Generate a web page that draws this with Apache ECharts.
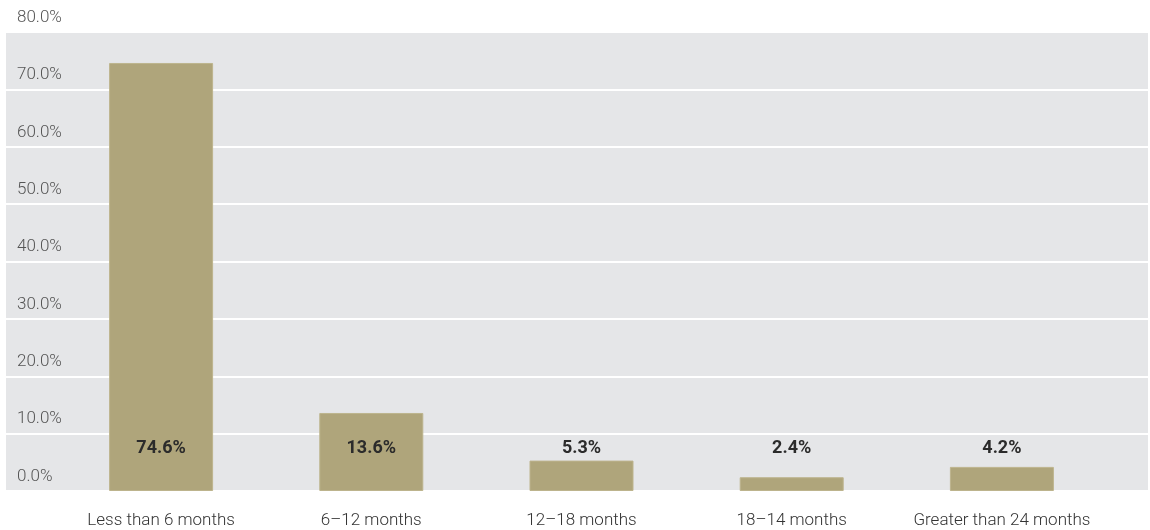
<!DOCTYPE html>
<html>
<head>
<meta charset="utf-8">
<script src="https://cdn.jsdelivr.net/npm/echarts@6/dist/echarts.min.js"></script>
<style>
	html,body{margin:0;padding:0;background:#fff;}
	#chart{width:1150px;height:530px;}
</style>
</head>
<body>
<div id="chart"></div>
<script>
// data
var categories = ['Less than 6 months', '6–12 months', '12–18 months', '18–14 months', 'Greater than 24 months'];
var shares = [74.6, 13.6, 5.3, 2.4, 4.2];
var yTicks = {min: 0, max: 80, interval: 10};

// height (in %) where the value labels sit, same for every bar
var labelLevel = 5.8;

var myChart = echarts.init(document.getElementById('chart'));
var option = {
	animation: false,
	textStyle: {fontFamily: 'Roboto'},
	grid: [
		{left: 6, right: 2, top: 32, bottom: 39, show: true, backgroundColor: '#e5e6e8', borderWidth: 0},
		{left: 56, right: 43, top: 32, bottom: 39}
	],
	xAxis: [
		{gridIndex: 0, type: 'value', show: false},
		{
			gridIndex: 1,
			type: 'category',
			data: categories,
			axisLine: {show: false},
			axisTick: {show: false},
			axisLabel: {
				interval: 0,
				margin: 21,
				color: '#333',
				fontSize: 17,
				fontWeight: 300
			}
		}
	],
	yAxis: [
		{
			gridIndex: 0,
			type: 'value',
			min: yTicks.min,
			max: yTicks.max,
			interval: yTicks.interval,
			axisLine: {show: false},
			axisTick: {show: false},
			splitLine: {lineStyle: {color: '#fff', width: 2}},
			axisLabel: {
				inside: true,
				margin: 11,
				color: '#555',
				fontSize: 17,
				fontWeight: 300,
				verticalAlign: 'bottom',
				padding: [0, 0, 6, 0],
				formatter: function(v){ return v.toFixed(1) + '%'; }
			}
		},
		{
			gridIndex: 1,
			type: 'value',
			min: yTicks.min,
			max: yTicks.max,
			interval: yTicks.interval,
			show: false,
			splitLine: {show: false}
		}
	],
	series: [
		{
			type: 'bar',
			xAxisIndex: 1,
			yAxisIndex: 1,
			barWidth: 104,
			itemStyle: {color: '#afa57b', borderColor: '#bdb48d', borderWidth: 1},
			z: 3,
			data: shares
		},
		{
			type: 'bar',
			xAxisIndex: 1,
			yAxisIndex: 1,
			barWidth: 104,
			barGap: '-100%',
			itemStyle: {color: 'rgba(0,0,0,0)'},
			z: 4,
			silent: true,
			label: {
				show: true,
				position: 'top',
				distance: 0,
				color: '#2b2b2b',
				fontSize: 18,
				fontWeight: 'bold',
				formatter: function(p){ return shares[p.dataIndex].toFixed(1) + '%'; }
			},
			data: shares.map(function(){ return labelLevel; })
		}
	]
};
myChart.setOption(option);
</script>
</body>
</html>
